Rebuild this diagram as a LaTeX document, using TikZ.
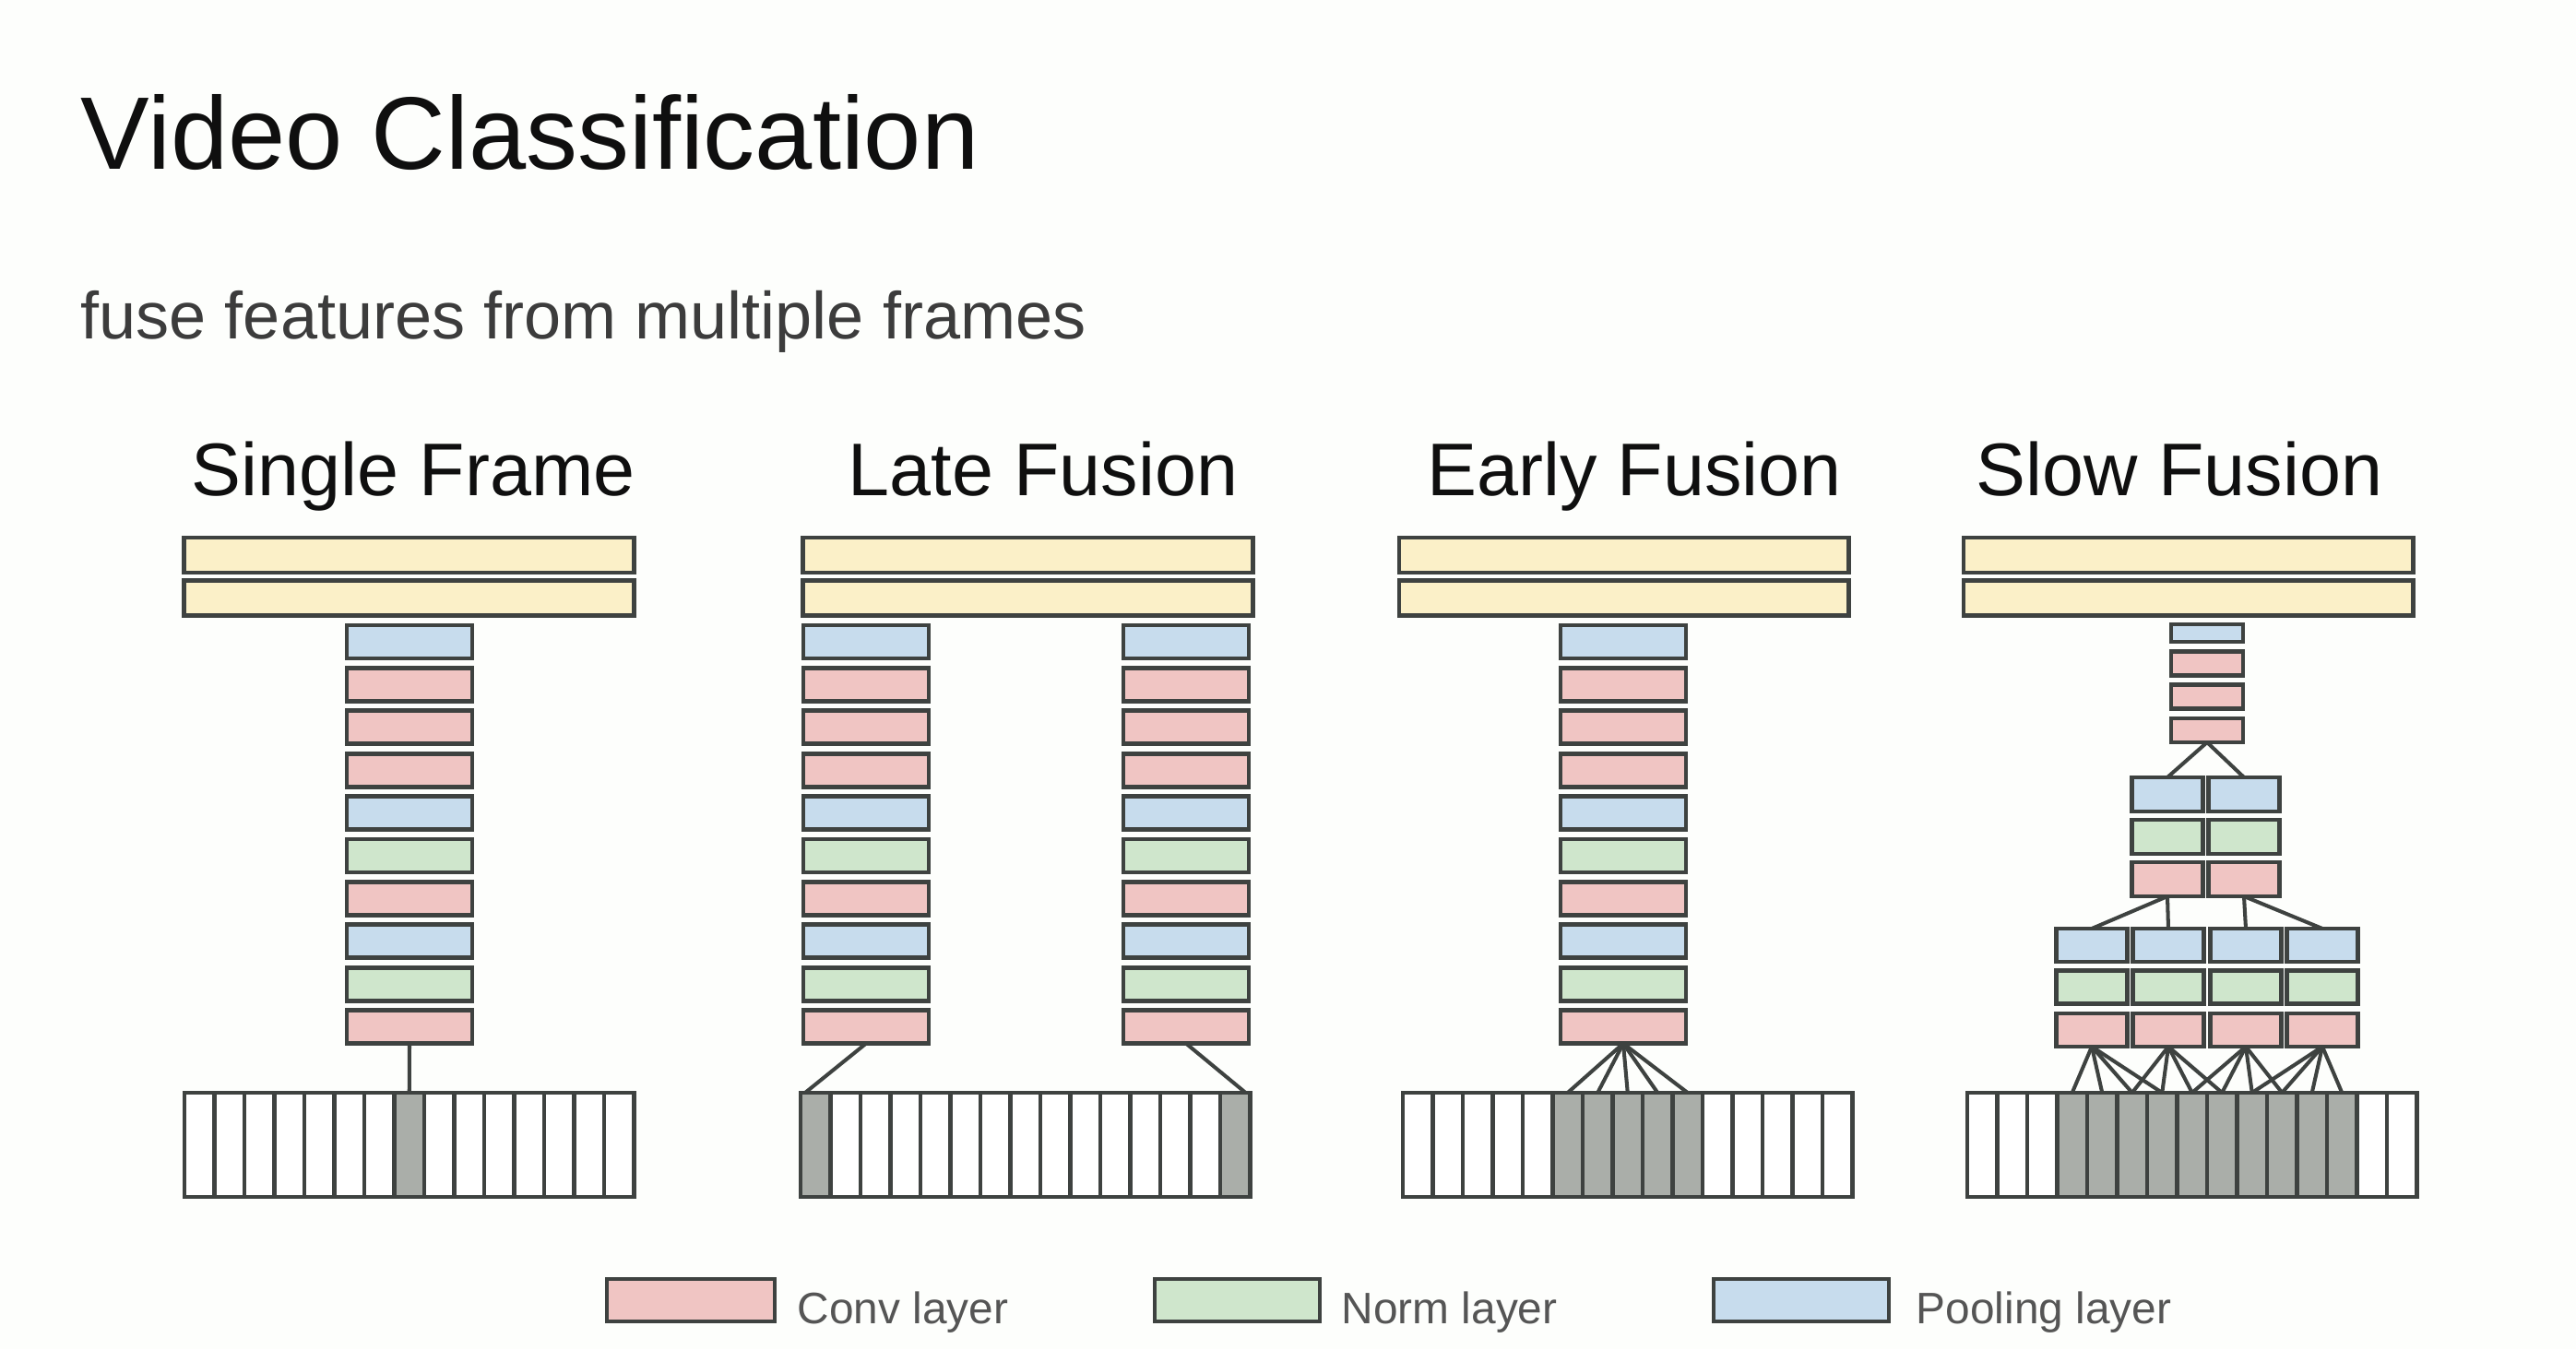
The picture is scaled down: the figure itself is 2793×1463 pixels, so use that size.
\documentclass[tikz,border=0pt]{standalone}
\usepackage{fontspec}
\setmainfont{Liberation Sans}
\usetikzlibrary{calc}
\definecolor{bg}{RGB}{253,254,252}
\definecolor{fcY}{RGB}{251,240,200}
\definecolor{convR}{RGB}{240,197,195}
\definecolor{normG}{RGB}{207,230,204}
\definecolor{poolB}{RGB}{199,220,237}
\definecolor{frameG}{RGB}{170,174,169}
\definecolor{edge}{RGB}{62,66,64}
\definecolor{legtxt}{RGB}{85,85,85}
\definecolor{subtxt}{RGB}{60,60,60}
\definecolor{ttl}{RGB}{15,15,15}
\tikzset{
  box/.style={draw=edge, line width=1.35pt, inner sep=0pt, outer sep=0pt},
  fcbar/.style={box, fill=fcY, minimum width=4.87cm, minimum height=0.38cm},
  col/.style={box, minimum width=1.36cm, minimum height=0.36cm},
  scol/.style={box, minimum width=0.77cm, minimum height=0.36cm},
  frame/.style={box, fill=white, minimum width=0.325cm, minimum height=1.13cm},
  frameon/.style={frame, fill=frameG},
  link/.style={draw=edge, line width=1.15pt},
  paneltitle/.style={anchor=base, inner sep=0pt, text=ttl, font=\fontsize{23}{27}\selectfont},
  legbox/.style={box, minimum height=0.46cm},
  legtext/.style={anchor=base west, inner sep=0pt, text=legtxt, font=\fontsize{13.6}{16}\selectfont}
}
\newcommand\framestrip[4]{%
  \foreach \i in {#3} \node[frame] (#1\i) at ({#2+32.5*\i+16.25},1241.5) {};
  \foreach \i in {#4} \node[frameon] (#1\i) at ({#2+32.5*\i+16.25},1241.5) {};
}
\newcommand\layercol[2]{%
  \foreach \c [count=\k from 0] in {poolB,convR,convR,convR,poolB,normG,convR,poolB,normG,convR}
    \node[col, fill=\c] (#1\k) at (#2,{696+46.4*\k}) {};
}
\begin{document}
\begin{tikzpicture}[x=0.01cm, y=-0.01cm]
\useasboundingbox (0,0) rectangle (2793,1463);
\fill[bg] (0,0) rectangle (2793,1463);

% headings
\node[anchor=base west, inner sep=0pt, text=ttl, font=\fontsize{31.8}{38}\selectfont] (title) at (87,183) {Video Classification};
\node[anchor=base west, inner sep=0pt, text=subtxt, font=\fontsize{20.5}{25}\selectfont] (subtitle) at (87,367) {fuse features from multiple frames};

\node[paneltitle] (tsf) at (448,537) {Single Frame};
\node[paneltitle] (tlf) at (1131,537) {Late Fusion};
\node[paneltitle] (tef) at (1772,537) {Early Fusion};
\node[paneltitle] (tsl) at (2363,537) {Slow Fusion};

% fully connected bars
\foreach \p/\cx in {sf/443.5, lf/1114.5, ef/1760.5, sl/2372.5} {
  \node[fcbar] (\p fa) at (\cx,602) {};
  \node[fcbar] (\p fb) at (\cx,648.5) {};
}

% Single Frame
\layercol{sf}{444}
\framestrip{sfc}{200}{0,...,6,8,9,...,14}{7}
\draw[link] (sf9.south) -- (sfc7.north);

% Late Fusion
\layercol{lfa}{939}
\layercol{lfb}{1286}
\framestrip{lfc}{868}{1,...,13}{0,14}
\draw[link] (lfa9.south) -- ($(lfc0.north west)+(5,0)$);
\draw[link] (lfb9.south) -- ($(lfc14.north east)+(-5,0)$);

% Early Fusion
\layercol{ef}{1760}
\framestrip{efc}{1521}{0,...,4,10,11,...,14}{5,...,9}
\foreach \i in {5,...,9} \draw[link] (ef9.south) -- (efc\i.north);

% Slow Fusion
\node[box, fill=poolB, minimum width=0.78cm, minimum height=0.19cm] (s1p) at (2393,686.5) {};
\node[box, fill=convR, minimum width=0.78cm, minimum height=0.26cm] (s1c1) at (2393,719.5) {};
\node[box, fill=convR, minimum width=0.78cm, minimum height=0.26cm] (s1c2) at (2393,755.5) {};
\node[box, fill=convR, minimum width=0.78cm, minimum height=0.26cm] (s1c3) at (2393,792) {};

\foreach \j/\cx in {a/2350, b/2433} {
  \node[scol, minimum height=0.37cm, fill=poolB] (s2p\j) at (\cx,861.5) {};
  \node[scol, minimum height=0.37cm, fill=normG] (s2n\j) at (\cx,907.5) {};
  \node[scol, minimum height=0.37cm, fill=convR] (s2c\j) at (\cx,953.5) {};
}
\foreach \j/\cx in {0/2268, 1/2351, 2/2435, 3/2518} {
  \node[scol, fill=poolB] (s3p\j) at (\cx,1025) {};
  \node[scol, fill=normG] (s3n\j) at (\cx,1070.5) {};
  \node[scol, fill=convR] (s3c\j) at (\cx,1117) {};
}
\framestrip{slc}{2133}{0,1,2,13,14}{3,...,12}

\draw[link] (s1c3.south) -- (s2pa.north);
\draw[link] (s1c3.south) -- (s2pb.north);
\draw[link] (s2ca.south) -- (s3p0.north);
\draw[link] (s2ca.south) -- (s3p1.north);
\draw[link] (s2cb.south) -- (s3p2.north);
\draw[link] (s2cb.south) -- (s3p3.north);
\foreach \j in {0,...,3} {
  \foreach \m in {0,...,3} {
    \pgfmathtruncatemacro\cc{3+2*\j+\m}
    \draw[link] (s3c\j.south) -- (slc\cc.north);
  }
}

% legend
\node[legbox, fill=convR, minimum width=1.82cm] (lconv) at (749,1410) {};
\node[legtext] (lconvt) at (864,1435) {Conv layer};
\node[legbox, fill=normG, minimum width=1.79cm] (lnorm) at (1341.5,1410) {};
\node[legtext] (lnormt) at (1454,1435) {Norm layer};
\node[legbox, fill=poolB, minimum width=1.90cm] (lpool) at (1953,1410) {};
\node[legtext] (lpoolt) at (2077,1435) {Pooling layer};
\end{tikzpicture}
\end{document}
